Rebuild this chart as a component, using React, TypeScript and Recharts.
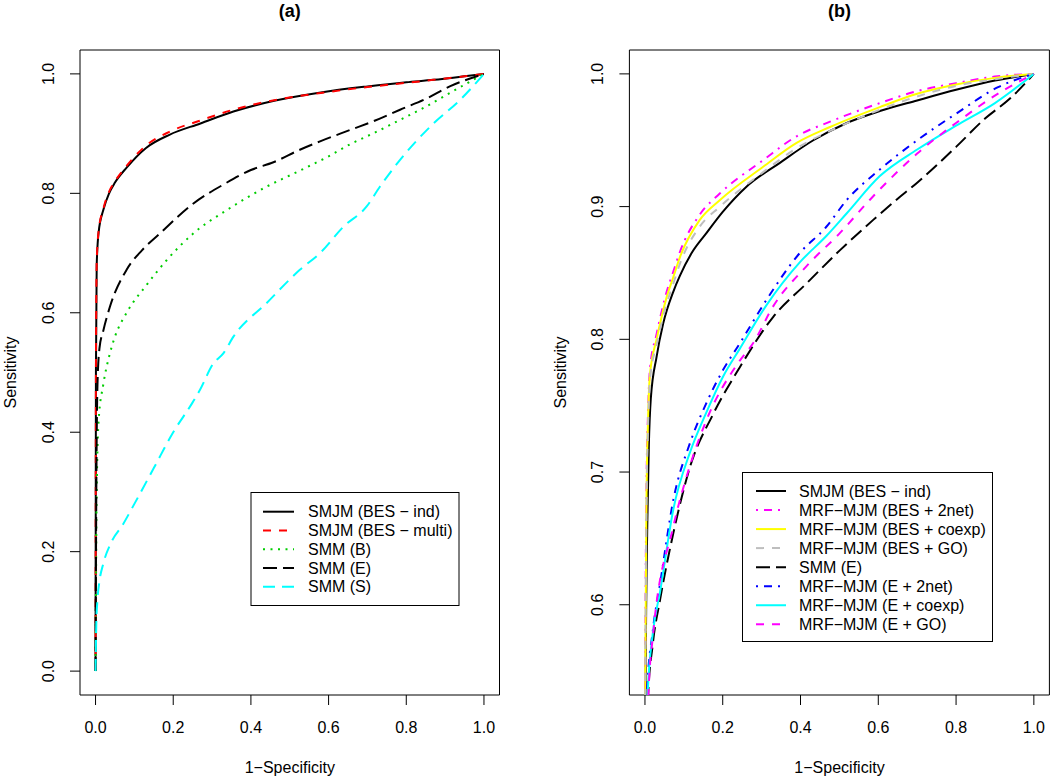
import React from 'react';
import { LineChart, Line, XAxis, YAxis, ReferenceArea } from 'recharts';

type Pt = [number, number];

const FONT = '"Liberation Sans", Arial, Helvetica, sans-serif';

const xTicks = [0, 0.2, 0.4, 0.6, 0.8, 1.0];
const yTicksA = [0, 0.2, 0.4, 0.6, 0.8, 1.0];
const yTicksB = [0.6, 0.7, 0.8, 0.9, 1.0];

// panel (a)
const aSmjmInd: Pt[] = [
  [0, 0], [0.001, 0.5], [0.003, 0.68], [0.008, 0.735], [0.02, 0.772], [0.035, 0.8], [0.05, 0.818],
  [0.08, 0.843], [0.13, 0.876], [0.19, 0.898], [0.27, 0.917], [0.355, 0.937], [0.46, 0.955],
  [0.58, 0.969], [0.7, 0.979], [0.8, 0.986], [0.87, 0.99], [0.95, 0.996], [1, 1],
];
const aSmjmMulti: Pt[] = [
  [0, 0], [0.001, 0.5], [0.003, 0.685], [0.008, 0.737], [0.02, 0.774], [0.035, 0.803], [0.05, 0.82],
  [0.08, 0.846], [0.13, 0.88], [0.19, 0.903], [0.27, 0.922], [0.355, 0.94], [0.46, 0.956],
  [0.58, 0.968], [0.7, 0.978], [0.8, 0.985], [0.87, 0.99], [0.95, 0.996], [1, 1],
];
const aSmmB: Pt[] = [
  [0, 0], [0.003, 0.3], [0.008, 0.42], [0.02, 0.48], [0.037, 0.532], [0.05, 0.56], [0.08, 0.6],
  [0.132, 0.647], [0.183, 0.688], [0.252, 0.733], [0.338, 0.772], [0.44, 0.811], [0.526, 0.838],
  [0.6, 0.862], [0.655, 0.882], [0.72, 0.902], [0.784, 0.923], [0.85, 0.945], [0.912, 0.968], [1, 1],
];
const aSmmE: Pt[] = [
  [0, 0], [0.002, 0.3], [0.005, 0.48], [0.01, 0.54], [0.02, 0.57], [0.037, 0.61], [0.08, 0.672],
  [0.12, 0.705], [0.166, 0.733], [0.252, 0.783], [0.33, 0.815], [0.4, 0.839], [0.458, 0.852],
  [0.526, 0.873], [0.578, 0.887], [0.655, 0.906], [0.72, 0.922], [0.784, 0.94], [0.85, 0.958],
  [0.912, 0.979], [1, 1],
];
const aSmmS: Pt[] = [
  [0, 0], [0.002, 0.08], [0.005, 0.12], [0.01, 0.15], [0.02, 0.18], [0.04, 0.215], [0.07, 0.245],
  [0.1, 0.28], [0.15, 0.34], [0.2, 0.4], [0.25, 0.45], [0.269, 0.471], [0.303, 0.515], [0.329, 0.532],
  [0.355, 0.56], [0.44, 0.616], [0.526, 0.672], [0.578, 0.7], [0.638, 0.744], [0.698, 0.778],
  [0.732, 0.811], [0.784, 0.856], [0.87, 0.917], [0.938, 0.956], [1, 1],
];

// panel (b)
const bSmjmInd: Pt[] = [
  [0, 0], [0.002, 0.55], [0.006, 0.66], [0.01, 0.72], [0.015, 0.755], [0.03, 0.787], [0.047, 0.812],
  [0.073, 0.836], [0.09, 0.848], [0.12, 0.865], [0.158, 0.88], [0.2, 0.896], [0.261, 0.915],
  [0.347, 0.933], [0.433, 0.95], [0.519, 0.963], [0.604, 0.972], [0.7, 0.98], [0.8, 0.988],
  [0.9, 0.995], [1, 1],
];
const bBes2net: Pt[] = [
  [0, 0], [0.001, 0.56], [0.004, 0.69], [0.008, 0.745], [0.013, 0.778], [0.03, 0.804], [0.056, 0.836],
  [0.073, 0.851], [0.09, 0.866], [0.141, 0.894], [0.193, 0.91], [0.304, 0.935], [0.39, 0.953],
  [0.476, 0.964], [0.604, 0.978], [0.7, 0.987], [0.8, 0.993], [0.9, 0.998], [1, 1],
];
const bBesCoexp: Pt[] = [
  [0, 0], [0.001, 0.55], [0.004, 0.68], [0.008, 0.74], [0.013, 0.774], [0.03, 0.8], [0.056, 0.832],
  [0.073, 0.847], [0.09, 0.862], [0.141, 0.89], [0.193, 0.905], [0.304, 0.93], [0.39, 0.948],
  [0.476, 0.96], [0.604, 0.975], [0.7, 0.985], [0.8, 0.992], [0.9, 0.997], [1, 1],
];
const bBesGo: Pt[] = [
  [0, 0], [0.001, 0.55], [0.004, 0.675], [0.008, 0.735], [0.013, 0.77], [0.03, 0.796], [0.056, 0.827],
  [0.073, 0.842], [0.09, 0.857], [0.141, 0.885], [0.193, 0.9], [0.304, 0.926], [0.39, 0.944],
  [0.476, 0.957], [0.604, 0.973], [0.7, 0.983], [0.8, 0.991], [0.9, 0.996], [1, 1],
];
const bSmmE: Pt[] = [
  [0, 0], [0.005, 0.45], [0.008, 0.531], [0.02, 0.57], [0.039, 0.604], [0.073, 0.654], [0.116, 0.704],
  [0.176, 0.744], [0.244, 0.779], [0.33, 0.817], [0.415, 0.842], [0.501, 0.867], [0.587, 0.89],
  [0.646, 0.905], [0.7, 0.918], [0.8, 0.945], [0.873, 0.966], [0.941, 0.982], [1, 1],
];
const bE2net: Pt[] = [
  [0, 0], [0.003, 0.45], [0.005, 0.533], [0.02, 0.58], [0.039, 0.616], [0.073, 0.679], [0.116, 0.722],
  [0.158, 0.752], [0.201, 0.777], [0.244, 0.797], [0.313, 0.83], [0.398, 0.865], [0.467, 0.885],
  [0.519, 0.905], [0.604, 0.928], [0.7, 0.95], [0.8, 0.97], [0.908, 0.99], [1, 1],
];
const bECoexp: Pt[] = [
  [0, 0], [0.004, 0.45], [0.007, 0.533], [0.02, 0.578], [0.039, 0.61], [0.073, 0.672], [0.116, 0.715],
  [0.158, 0.745], [0.201, 0.772], [0.244, 0.793], [0.313, 0.826], [0.398, 0.858], [0.467, 0.878],
  [0.519, 0.895], [0.604, 0.923], [0.7, 0.943], [0.8, 0.961], [0.9, 0.978], [1, 1],
];
const bEGo: Pt[] = [
  [0, 0], [0.005, 0.45], [0.009, 0.533], [0.021, 0.578], [0.073, 0.659], [0.116, 0.705], [0.158, 0.739],
  [0.244, 0.784], [0.278, 0.797], [0.33, 0.825], [0.415, 0.855], [0.501, 0.88], [0.578, 0.905],
  [0.604, 0.913], [0.7, 0.94], [0.8, 0.963], [0.924, 0.988], [1, 1],
];

const toRows = (pts: Pt[]) => pts.map(([x, y]) => ({ x, y }));

const seriesA = [
  { name: 'SMJM (BES \u2212 ind)', pts: aSmjmInd, color: '#000000', dash: undefined },
  { name: 'SMJM (BES \u2212 multi)', pts: aSmjmMulti, color: '#FF0000', dash: '8 8' },
  { name: 'SMM (B)', pts: aSmmB, color: '#00CD00', dash: '2 5.5' },
  { name: 'SMM (E)', pts: aSmmE, color: '#000000', dash: '14 6' },
  { name: 'SMM (S)', pts: aSmmS, color: '#00FFFF', dash: '12 7' },
];

const seriesB = [
  { name: 'SMJM (BES \u2212 ind)', pts: bSmjmInd, color: '#000000', dash: undefined },
  { name: 'MRF\u2212MJM (BES + 2net)', pts: bBes2net, color: '#FF00FF', dash: '2 6 8 6' },
  { name: 'MRF\u2212MJM (BES + coexp)', pts: bBesCoexp, color: '#FFFF00', dash: undefined },
  { name: 'MRF\u2212MJM (BES + GO)', pts: bBesGo, color: '#BEBEBE', dash: '8 8' },
  { name: 'SMM (E)', pts: bSmmE, color: '#000000', dash: '14 6' },
  { name: 'MRF\u2212MJM (E + 2net)', pts: bE2net, color: '#0000FF', dash: '2 6 8 6' },
  { name: 'MRF\u2212MJM (E + coexp)', pts: bECoexp, color: '#00FFFF', dash: undefined },
  { name: 'MRF\u2212MJM (E + GO)', pts: bEGo, color: '#FF00FF', dash: '8 8' },
];

const XTick = (props: any) => {
  const { x, y, payload } = props;
  return (
    <text x={x} y={y + 26} textAnchor="middle" fontSize={16} fontFamily={FONT} fill="#000">
      {Number(payload.value).toFixed(1)}
    </text>
  );
};

const YTick = (props: any) => {
  const { x, y, payload } = props;
  return (
    <text
      transform={`translate(${x - 14},${y}) rotate(-90)`}
      textAnchor="middle"
      fontSize={16}
      fontFamily={FONT}
      fill="#000"
    >
      {Number(payload.value).toFixed(1)}
    </text>
  );
};

function Panel({ series, yDomain, yTicks, marginLeft, marginRight }: any) {
  return (
    <LineChart
      width={525}
      height={779}
      margin={{ top: 50, right: marginRight, bottom: 44, left: marginLeft }}
    >
      <XAxis
        type="number"
        dataKey="x"
        domain={[-0.04, 1.04]}
        ticks={xTicks}
        allowDataOverflow
        axisLine={false}
        tickSize={10}
        tickLine={{ stroke: '#000' }}
        tick={<XTick />}
        height={40}
      />
      <YAxis
        type="number"
        dataKey="y"
        domain={yDomain}
        ticks={yTicks}
        allowDataOverflow
        axisLine={false}
        tickSize={10}
        tickLine={{ stroke: '#000' }}
        tick={<YTick />}
        width={50}
      />
      <ReferenceArea
        x1={-0.04}
        x2={1.04}
        y1={yDomain[0]}
        y2={yDomain[1]}
        fill="none"
        stroke="#000"
        strokeWidth={1}
        ifOverflow="visible"
      />
      {series.map((s: any) => (
        <Line
          key={s.name}
          data={toRows(s.pts)}
          dataKey="y"
          type="monotone"
          stroke={s.color}
          strokeWidth={2}
          strokeDasharray={s.dash}
          dot={false}
          activeDot={false}
          isAnimationActive={false}
        />
      ))}
    </LineChart>
  );
}

function LegendBox({ series, x, y, w, h, row0, rowStep, lineX0, lineX1, textX }: any) {
  return (
    <g>
      <rect x={x} y={y} width={w} height={h} fill="#fff" stroke="#000" strokeWidth={1} />
      {series.map((s: any, i: number) => {
        const cy = row0 + i * rowStep;
        return (
          <g key={s.name}>
            <line x1={lineX0} x2={lineX1} y1={cy} y2={cy} stroke={s.color} strokeWidth={2} strokeDasharray={s.dash} />
            <text x={textX} y={cy + 5.7} fontSize={16} fontFamily={FONT} fill="#000">
              {s.name}
            </text>
          </g>
        );
      })}
    </g>
  );
}

export default function App() {
  return (
    <div style={{ position: 'absolute', left: 0, top: 0, width: 1050, height: 779, background: '#fff' }}>
      <div style={{ position: 'absolute', left: 0, top: 0 }}>
        <Panel series={seriesA} yDomain={[-0.04, 1.04]} yTicks={yTicksA} marginLeft={30} marginRight={25.5} />
      </div>
      <div style={{ position: 'absolute', left: 525, top: 0 }}>
        <Panel series={seriesB} yDomain={[0.532, 1.018]} yTicks={yTicksB} marginLeft={54.4} marginRight={0.6} />
      </div>
      <svg
        width={1050}
        height={779}
        style={{ position: 'absolute', left: 0, top: 0, pointerEvents: 'none' }}
      >
        <text x={289.8} y={17} textAnchor="middle" fontSize={18} fontWeight="bold" fontFamily={FONT}>(a)</text>
        <text x={839.5} y={17} textAnchor="middle" fontSize={18} fontWeight="bold" fontFamily={FONT}>(b)</text>
        <text x={289.8} y={773} textAnchor="middle" fontSize={16} fontFamily={FONT}>1{'\u2212'}Specificity</text>
        <text x={839.5} y={773} textAnchor="middle" fontSize={16} fontFamily={FONT}>1{'\u2212'}Specificity</text>
        <text transform="translate(16,372.5) rotate(-90)" textAnchor="middle" fontSize={16} fontFamily={FONT}>Sensitivity</text>
        <text transform="translate(566,372.5) rotate(-90)" textAnchor="middle" fontSize={16} fontFamily={FONT}>Sensitivity</text>
        <LegendBox series={seriesA} x={251} y={492.5} w={208} h={113} row0={511.7} rowStep={18.75} lineX0={263} lineX1={294} textX={308} />
        <LegendBox series={seriesB} x={742.5} y={472.5} w={250} h={169} row0={491} rowStep={19.04} lineX0={756} lineX1={786} textX={799} />
      </svg>
    </div>
  );
}
